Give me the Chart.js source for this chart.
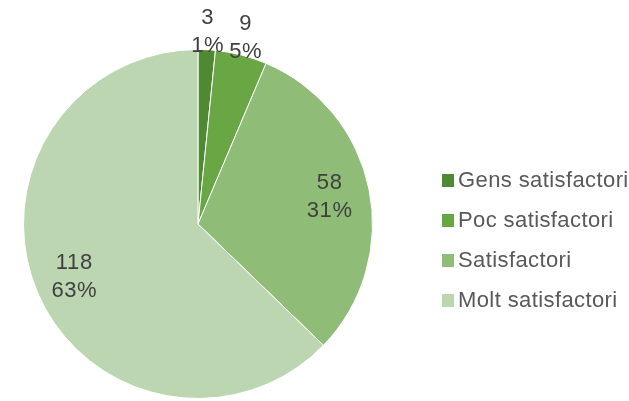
<!DOCTYPE html>
<html>
<head>
<meta charset="utf-8">
<script src="https://cdn.jsdelivr.net/npm/chart.js@4"></script>
<style>
  html, body { margin: 0; padding: 0; background: #fff; overflow: hidden; }
  #wrap { width: 629px; height: 401px; }
</style>
</head>
<body>
<div id="wrap"><canvas id="satisfactionPie" width="629" height="401"></canvas></div>
<script>
// Survey answers
const categories = ['Gens satisfactori', 'Poc satisfactori', 'Satisfactori', 'Molt satisfactori'];
const responses = [3, 9, 58, 118];
const percentLabels = ['1%', '5%', '31%', '63%'];
const sliceColors = ['#4f8a32', '#68a744', '#8fbc77', '#bdd6b2'];

const FONT = '"Liberation Sans", Arial, sans-serif';

// value + percentage on each slice, thin slices get it outside the rim
const sliceLabels = {
    id: 'sliceLabels',
    afterDatasetsDraw(chart) {
        const ctx = chart.ctx;
        const total = responses.reduce((a, b) => a + b, 0);
        chart.getDatasetMeta(0).data.forEach((arc, i) => {
            const { x, y, startAngle, endAngle, outerRadius } =
                arc.getProps(['x', 'y', 'startAngle', 'endAngle', 'outerRadius'], true);
            const mid = (startAngle + endAngle) / 2;
            const small = responses[i] / total < 0.1;
            const dist = small ? outerRadius + 18 : outerRadius * 0.77;
            const cx = x + Math.cos(mid) * dist;
            const cy = y + Math.sin(mid) * dist;
            ctx.save();
            ctx.font = '22px ' + FONT;
            ctx.letterSpacing = '0.6px';
            ctx.fillStyle = '#404040';
            ctx.textAlign = 'center';
            ctx.textBaseline = 'middle';
            ctx.fillText(String(responses[i]), cx, cy - 14);
            ctx.fillText(percentLabels[i], cx, cy + 14);
            ctx.restore();
        });
    }
};

// legend column on the right
const sideLegend = {
    id: 'sideLegend',
    afterDraw(chart) {
        const ctx = chart.ctx;
        const colors = chart.data.datasets[0].backgroundColor;
        const boxX = 442, firstY = 180.5, rowH = 40;
        ctx.save();
        ctx.font = '22px ' + FONT;
        ctx.letterSpacing = '0.4px';
        ctx.textBaseline = 'middle';
        chart.data.labels.forEach((label, i) => {
            const cy = firstY + i * rowH;
            ctx.fillStyle = colors[i];
            ctx.fillRect(boxX, cy - 6.5, 12, 13);
            ctx.fillStyle = '#595959';
            ctx.fillText(label, boxX + 16, cy);
        });
        ctx.restore();
    }
};

const config = {
    type: 'pie',
    data: {
        labels: categories,
        datasets: [{
            data: responses,
            backgroundColor: sliceColors,
            borderColor: '#ffffff',
            borderWidth: 1,
            hoverOffset: 0
        }]
    },
    options: {
        responsive: false,
        animation: false,
        events: [],
        layout: {
            padding: { top: 49, bottom: 2, left: 23, right: 256 }
        },
        plugins: {
            legend: { display: false },
            tooltip: { enabled: false }
        }
    },
    plugins: [sliceLabels, sideLegend]
};

new Chart(document.getElementById('satisfactionPie'), config);
</script>
</body>
</html>
